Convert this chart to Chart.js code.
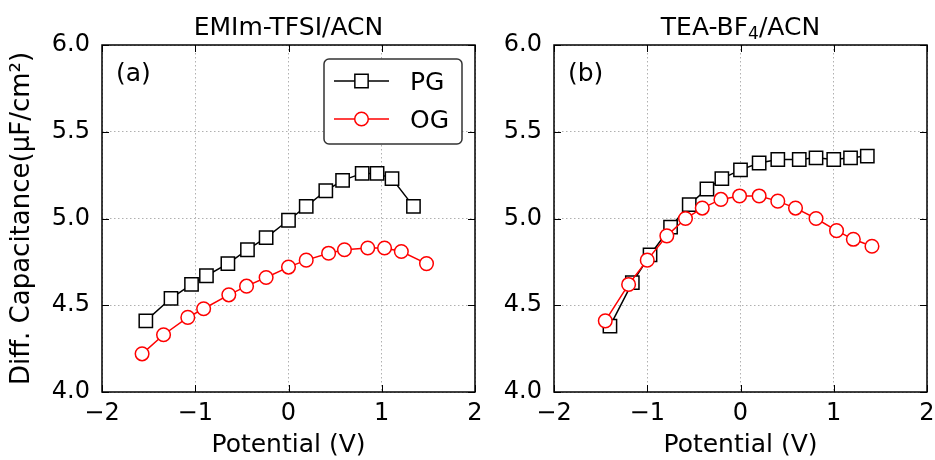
<!DOCTYPE html>
<html>
<head>
<meta charset="utf-8">
<script src="https://cdn.jsdelivr.net/npm/chart.js@4.4.0/dist/chart.umd.min.js"></script>
<style>
  body { margin: 0; background: #fff; overflow: hidden; }
  #wrap { position: relative; width: 935px; height: 460px; overflow: hidden; }
  canvas { position: absolute; top: 0; }
</style>
</head>
<body>
<div id="wrap">
  <canvas id="graficoA" width="500" height="460" style="left:0"></canvas>
  <canvas id="graficoB" width="450" height="460" style="left:500px"></canvas>
</div>
<script>
// tick labels
const ticksX = [-2, -1, 0, 1, 2];
const ticksY = [4.0, 4.5, 5.0, 5.5, 6.0];

// (a) EMIm-TFSI/ACN
const potA_PG = [-1.53, -1.26, -1.04, -0.88, -0.65, -0.44, -0.24, 0.0, 0.19, 0.40, 0.58, 0.79, 0.95, 1.11, 1.34];
const capA_PG = [4.41, 4.54, 4.62, 4.67, 4.74, 4.82, 4.89, 4.99, 5.07, 5.16, 5.22, 5.26, 5.26, 5.23, 5.07];
const potA_OG = [-1.57, -1.34, -1.08, -0.91, -0.64, -0.45, -0.24, 0.0, 0.19, 0.43, 0.60, 0.85, 1.03, 1.21, 1.48];
const capA_OG = [4.22, 4.33, 4.43, 4.48, 4.56, 4.61, 4.66, 4.72, 4.76, 4.80, 4.82, 4.83, 4.83, 4.81, 4.74];

// (b) TEA-BF4/ACN
const potB_PG = [-1.40, -1.16, -0.97, -0.75, -0.55, -0.36, -0.20, 0.0, 0.20, 0.40, 0.63, 0.81, 1.0, 1.18, 1.36];
const capB_PG = [4.38, 4.63, 4.79, 4.95, 5.08, 5.17, 5.23, 5.28, 5.32, 5.34, 5.34, 5.35, 5.34, 5.35, 5.36];
const potB_OG = [-1.45, -1.20, -1.0, -0.79, -0.59, -0.41, -0.21, -0.01, 0.20, 0.40, 0.59, 0.81, 1.03, 1.21, 1.41];
const capB_OG = [4.41, 4.62, 4.76, 4.90, 5.00, 5.06, 5.11, 5.13, 5.13, 5.10, 5.06, 5.00, 4.93, 4.88, 4.84];

const FONTE = "'DejaVu Sans', sans-serif";

function pontos(xs, ys) {
  return xs.map((x, i) => ({ x: x, y: ys[i] }));
}

function serieQuadrado(xs, ys) {
  return {
    label: 'PG',
    data: pontos(xs, ys),
    showLine: true,
    borderColor: '#000',
    borderWidth: 1.5,
    pointStyle: 'rect',
    pointRadius: 9.4,
    pointBorderWidth: 1.5,
    pointBorderColor: '#000',
    pointBackgroundColor: '#fff',
    order: 1
  };
}

function serieCirculo(xs, ys) {
  return {
    label: 'OG',
    data: pontos(xs, ys),
    showLine: true,
    borderColor: '#ff0000',
    borderWidth: 1.5,
    pointStyle: 'circle',
    pointRadius: 6.8,
    pointBorderWidth: 1.5,
    pointBorderColor: '#ff0000',
    pointBackgroundColor: '#fff',
    order: 0
  };
}

// moldura, ticks para dentro, titulo, rotulo e legenda
const painelPlugin = {
  id: 'painel',
  afterDraw(chart, args, opts) {
    const ctx = chart.ctx;
    const a = chart.chartArea;
    const sx = chart.scales.x;
    const sy = chart.scales.y;
    ctx.save();

    // ticks internos
    ctx.strokeStyle = '#000';
    ctx.lineWidth = 1;
    ctx.beginPath();
    ticksX.forEach(v => {
      const p = Math.round(sx.getPixelForValue(v)) + 0.5;
      ctx.moveTo(p, a.bottom); ctx.lineTo(p, a.bottom - 7);
      ctx.moveTo(p, a.top); ctx.lineTo(p, a.top + 7);
    });
    ticksY.forEach(v => {
      const p = Math.round(sy.getPixelForValue(v)) + 0.5;
      ctx.moveTo(a.left, p); ctx.lineTo(a.left + 7, p);
      ctx.moveTo(a.right, p); ctx.lineTo(a.right - 7, p);
    });
    ctx.stroke();

    // moldura
    ctx.lineWidth = 1.5;
    ctx.strokeRect(a.left, a.top, a.right - a.left, a.bottom - a.top);

    // titulo (com subscrito)
    ctx.fillStyle = '#000';
    ctx.textBaseline = 'alphabetic';
    ctx.textAlign = 'left';
    const fNormal = '25px ' + FONTE;
    const fSub = '17px ' + FONTE;
    let total = 0;
    opts.titulo.forEach(p => {
      ctx.font = p.sub ? fSub : fNormal;
      total += ctx.measureText(p.text).width;
    });
    let x = (a.left + a.right) / 2 - total / 2;
    opts.titulo.forEach(p => {
      ctx.font = p.sub ? fSub : fNormal;
      ctx.fillText(p.text, x, p.sub ? 39 : 35);
      x += ctx.measureText(p.text).width;
    });

    // (a) / (b)
    ctx.font = fNormal;
    ctx.fillText(opts.rotulo, a.left + 14, 81);

    // legenda
    if (opts.legenda) {
      const bx = 324, by = 59, bw = 138, bh = 85, r = 5;
      ctx.beginPath();
      ctx.moveTo(bx + r, by);
      ctx.arcTo(bx + bw, by, bx + bw, by + bh, r);
      ctx.arcTo(bx + bw, by + bh, bx, by + bh, r);
      ctx.arcTo(bx, by + bh, bx, by, r);
      ctx.arcTo(bx, by, bx + bw, by, r);
      ctx.closePath();
      ctx.fillStyle = '#fff';
      ctx.fill();
      ctx.strokeStyle = '#333';
      ctx.lineWidth = 1.5;
      ctx.stroke();

      const linhas = [81, 119];
      chart.data.datasets.forEach((ds, i) => {
        const ly = linhas[i];
        ctx.strokeStyle = ds.borderColor;
        ctx.lineWidth = 1.5;
        ctx.beginPath();
        ctx.moveTo(334, ly); ctx.lineTo(389, ly);
        ctx.stroke();
        ctx.beginPath();
        if (ds.pointStyle === 'rect') {
          const s = ds.pointRadius * Math.SQRT1_2;
          ctx.rect(361.5 - s, ly - s, 2 * s, 2 * s);
        } else {
          ctx.arc(361.5, ly, ds.pointRadius, 0, Math.PI * 2);
        }
        ctx.fillStyle = '#fff';
        ctx.fill();
        ctx.stroke();
        ctx.fillStyle = '#000';
        ctx.font = fNormal;
        ctx.fillText(ds.label, 410, ly + 9);
      });
    }
    ctx.restore();
  }
};

function criarGrafico(id, datasets, painel, larguraY, tituloY, padDireita) {
  const ctx = document.getElementById(id).getContext('2d');
  return new Chart(ctx, {
    type: 'scatter',
    data: { datasets: datasets },
    options: {
      responsive: false,
      animation: false,
      devicePixelRatio: 1,
      layout: { padding: { left: 0, right: padDireita, top: 45, bottom: 0 } },
      scales: {
        x: {
          type: 'linear',
          min: -2,
          max: 2,
          afterBuildTicks: s => { s.ticks = ticksX.map(v => ({ value: v })); },
          afterFit: s => { s.height = 68; },
          grid: { color: '#b0b0b0', lineWidth: 1, drawTicks: false },
          border: { display: false, dash: [1.5, 2.5] },
          ticks: {
            padding: 7,
            color: '#000',
            font: { family: FONTE, size: 24 },
            callback: v => String(v).replace('-', '\u2212')
          },
          title: {
            display: true,
            text: 'Potential (V)',
            color: '#000',
            font: { family: FONTE, size: 25 },
            padding: { top: 3, bottom: 0 }
          }
        },
        y: {
          type: 'linear',
          min: 4,
          max: 6,
          afterBuildTicks: s => { s.ticks = ticksY.map(v => ({ value: v })); },
          afterFit: s => { s.width = larguraY; },
          grid: { color: '#b0b0b0', lineWidth: 1, drawTicks: false },
          border: { display: false, dash: [1.5, 2.5] },
          ticks: {
            padding: 12,
            color: '#000',
            font: { family: FONTE, size: 24 },
            callback: v => Number(v).toFixed(1)
          },
          title: {
            display: tituloY !== '',
            text: tituloY,
            color: '#000',
            font: { family: FONTE, size: 26 },
            padding: { top: 7, bottom: 0 }
          }
        }
      },
      plugins: {
        legend: { display: false },
        tooltip: { enabled: false },
        painel: painel
      }
    },
    plugins: [painelPlugin]
  });
}

criarGrafico('graficoA',
  [serieQuadrado(potA_PG, capA_PG), serieCirculo(potA_OG, capA_OG)],
  { titulo: [{ text: 'EMIm-TFSI/ACN' }], rotulo: '(a)', legenda: true },
  102, 'Diff. Capacitance(\u03bcF/cm\u00b2)', 25);

criarGrafico('graficoB',
  [serieQuadrado(potB_PG, capB_PG), serieCirculo(potB_OG, capB_OG)],
  { titulo: [{ text: 'TEA-BF' }, { text: '4', sub: true }, { text: '/ACN' }], rotulo: '(b)', legenda: false },
  54, '', 23);
</script>
</body>
</html>
